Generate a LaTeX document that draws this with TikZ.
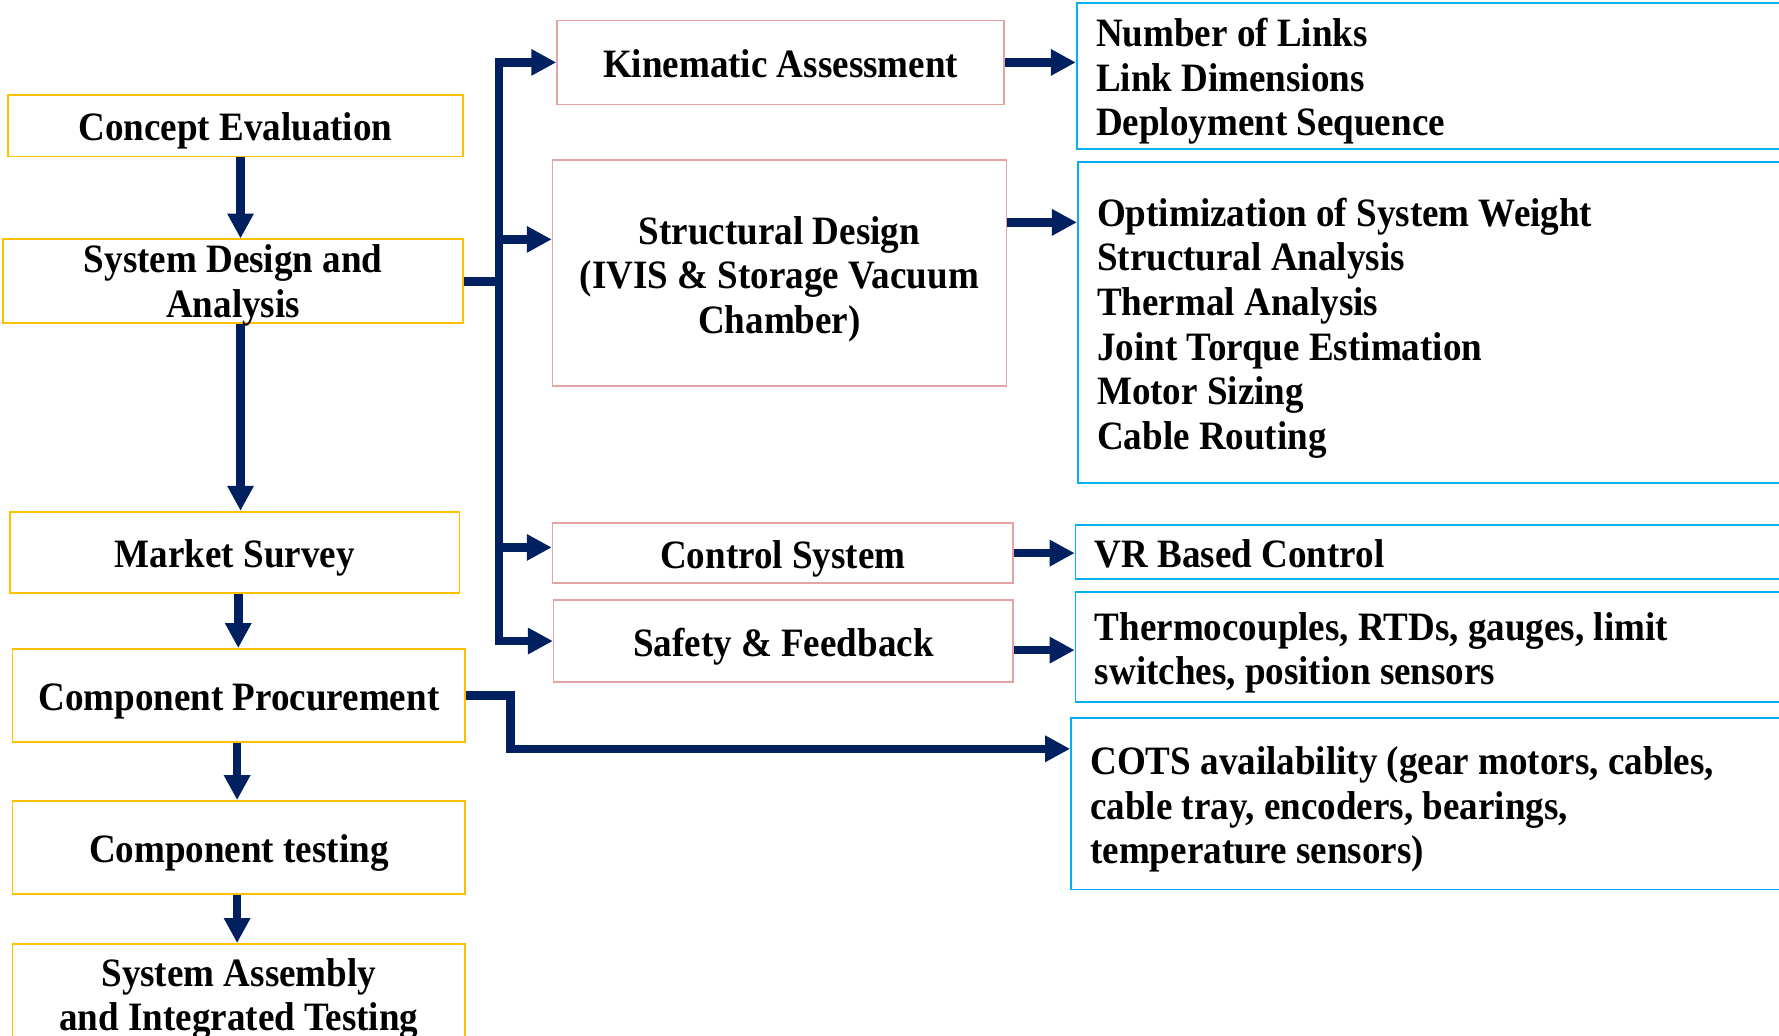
\documentclass[tikz,border=0pt]{standalone}
\usepackage{fontspec}
\setmainfont{Liberation Serif}[FakeStretch=0.92]
\usetikzlibrary{arrows.meta}
\definecolor{gold}{HTML}{FFC000}
\definecolor{rose}{HTML}{E6A3A3}
\definecolor{sky}{HTML}{00B0F0}
\definecolor{navy}{HTML}{002060}
\tikzset{
  box/.style={draw, line width=1.6pt, inner sep=0pt, align=center,
    font=\fontsize{35.5}{39.4}\selectfont\bfseries,
    execute at begin node={\rule[-8pt]{0pt}{42.5pt}}},
  tight/.style={execute at begin node={}, text depth=0pt},
  stage/.style={box, draw=gold},
  task/.style={box, draw=rose, line width=1.4pt},
  result/.style={box, draw=sky, line width=1.6pt, align=flush left, inner xsep=17pt},
  conn/.style={draw=navy, line width=7.5pt, line join=miter},
  arr/.style={conn, -{Triangle[length=22pt,width=22pt]}},
}
\begin{document}
\begin{tikzpicture}[x=1pt,y=-1pt]
\useasboundingbox (0,0) rectangle (1568,913);
\clip (0,0) rectangle (1568,913);

% process stages (left column)
\node[stage, minimum width=401pt, minimum height=54pt] (concept) at (207.5,111) {Concept Evaluation};
\node[stage, tight, minimum width=405pt, minimum height=74pt] (sysd) at (205.5,248) {System Design and\\Analysis};
\node[stage, minimum width=396pt, minimum height=72pt] (market) at (207,487) {Market Survey};
\node[stage, minimum width=399pt, minimum height=82pt] (proc) at (210.5,613) {Component Procurement};
\node[stage, minimum width=399pt, minimum height=82pt] (ctest) at (210.5,747) {Component testing};
\node[stage, tight, minimum width=399pt, minimum height=89pt] (assy) at (210.5,876.5) {System Assembly\\and Integrated Testing};

% design tasks (middle column)
\node[task, minimum width=394pt, minimum height=74pt] (kin) at (688,55) {Kinematic Assessment};
\node[task, tight, text height=107pt, minimum width=400pt, minimum height=199pt] (struct) at (687,240.5) {Structural Design\\(IVIS \& Storage Vacuum\\Chamber)};
\node[task, minimum width=406pt, minimum height=53pt] (ctrl) at (690,487.5) {Control System};
\node[task, minimum width=405pt, minimum height=72pt] (safe) at (690.5,565) {Safety \& Feedback};

% outcomes (right column)
\node[result, text width=617pt, minimum height=128pt] (b1) at (1274.5,67) {Number of Links\\Link Dimensions\\Deployment Sequence};
\node[result, text width=616pt, minimum height=283pt] (b2) at (1275,284.5) {Optimization of System Weight\\Structural Analysis\\Thermal Analysis\\Joint Torque Estimation\\Motor Sizing\\Cable Routing};
\node[result, text width=618pt, minimum height=47pt] (vr) at (1274,486.5) {VR Based Control};
\node[result, text width=618pt, minimum height=97pt] (th) at (1274,570.5) {Thermocouples, RTDs, gauges, limit\\switches, position sensors};
\node[result, text width=622pt, minimum height=151pt] (cots) at (1272,708.5) {COTS availability (gear motors, cables,\\cable tray, encoders, bearings,\\temperature sensors)};

% routing points
\coordinate (colA) at (212,0);
\coordinate (colB) at (210,0);
\coordinate (colC) at (209,0);
\coordinate (tm) at (440,248);
\coordinate (pb) at (450,660);

% main flow
\draw[arr] (concept.south -| colA) -- (sysd.north -| colA);
\draw[arr] (sysd.south -| colA) -- (market.north -| colA);
\draw[arr] (market.south -| colB) -- (proc.north -| colB);
\draw[arr] (proc.south -| colC) -- (ctest.north -| colC);
\draw[arr] (ctest.south -| colC) -- (assy.north -| colC);

% branching bus to the design tasks
\draw[conn] (sysd.east) -- (tm);
\draw[arr] (tm) |- (kin.west);
\draw[arr] (tm) |- (safe.west);
\draw[arr] ([yshift=29.5pt]struct.west -| tm) -- ([yshift=29.5pt]struct.west);
\draw[arr] ([yshift=5pt]ctrl.west -| tm) -- ([yshift=5pt]ctrl.west);

% tasks to outcomes
\draw[arr] (kin.east) -- (kin.east -| b1.west);
\draw[arr] ([yshift=44.5pt]struct.east) -- ([yshift=44.5pt]struct.east -| b2.west);
\draw[arr] (ctrl.east) -- (ctrl.east -| vr.west);
\draw[arr] ([yshift=-8pt]safe.east) -- ([yshift=-8pt]safe.east -| th.west);
\draw[arr] (proc.east) -| (pb) -- (pb -| cots.west);
\end{tikzpicture}
\end{document}
